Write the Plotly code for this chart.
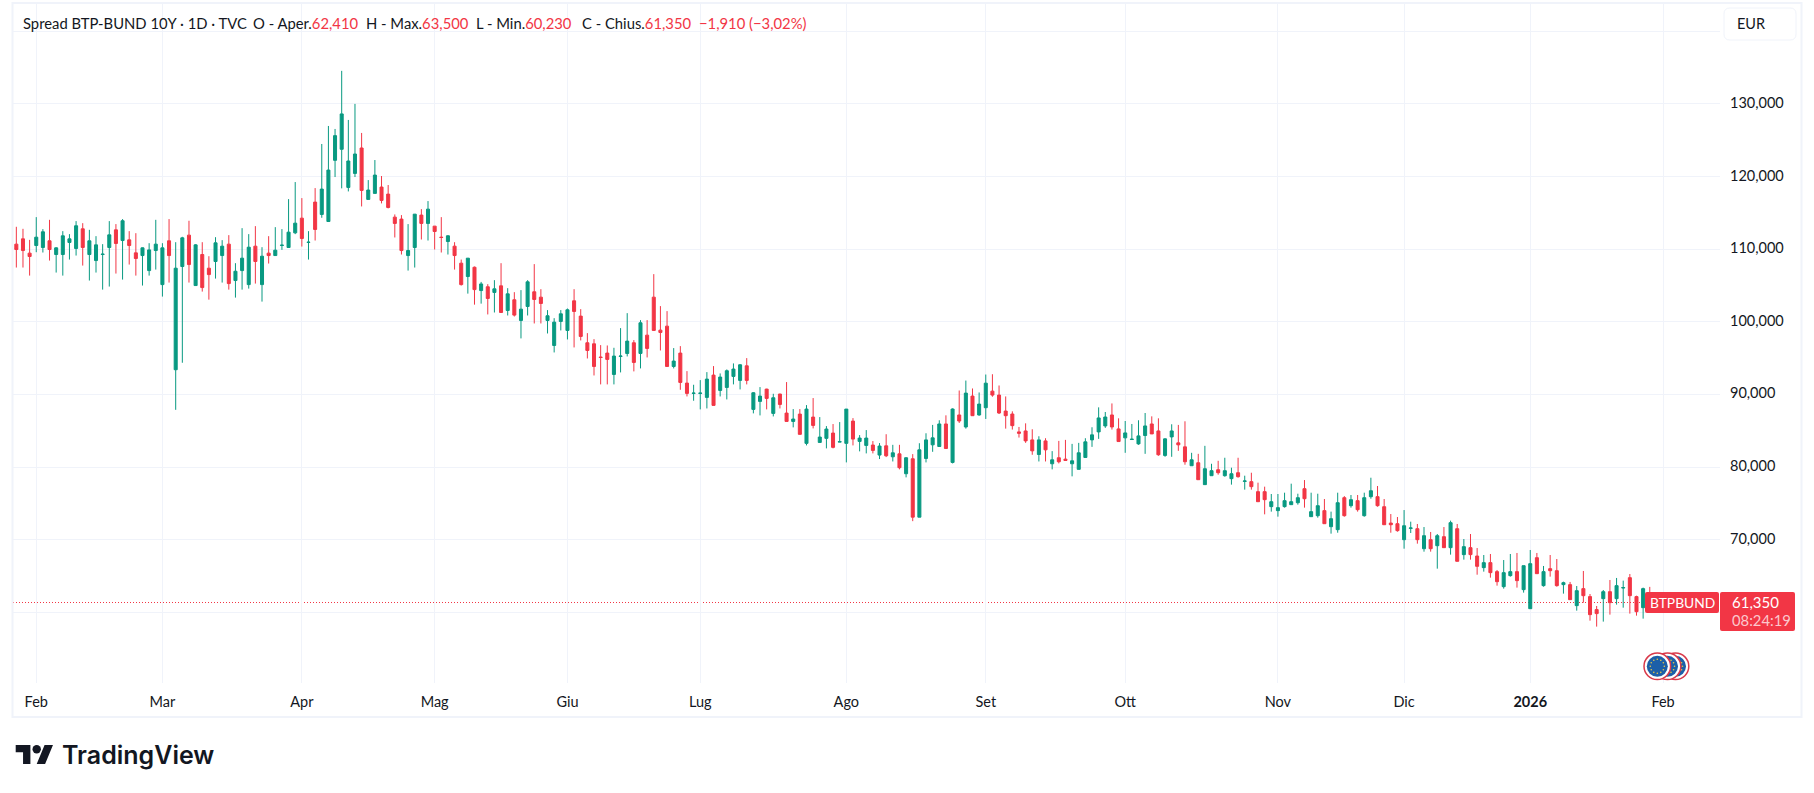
import math
import plotly.graph_objects as go

# Daily OHLC of the BTP-Bund 10Y spread
opens = [
    110.69,111.42,109.45,110.50,110.23,111.15,109.26,109.26,110.92,110.09,
    112.80,109.26,108.43,109.26,110.23,112.66,111.19,111.28,109.49,109.12,
    107.05,109.81,105.12,111.15,93.40,107.61,111.93,104.99,109.26,107.38,
    108.30,109.12,110.69,105.68,107.05,105.12,110.41,105.12,109.45,109.12,
    110.50,110.23,112.25,114.27,110.92,116.48,114.78,113.81,122.23,123.75,
    118.50,120.43,123.93,116.85,117.68,118.55,117.58,114.41,114.14,109.12,
    110.23,114.69,113.54,113.17,111.65,111.05,110.41,108.07,106.23,107.51,
    104.30,104.82,104.04,104.95,101.56,103.03,100.18,102.11,104.13,103.39,
    100.18,96.74,100.05,98.81,102.89,100.78,97.11,96.97,95.14,95.69,
    92.75,95.23,95.64,97.11,95.64,98.16,103.39,98.85,99.40,93.85,
    95.69,91.56,90.14,90.14,89.59,92.66,90.55,90.96,92.48,91.93,
    93.94,87.94,89.04,90.73,87.39,90.05,87.43,86.28,87.29,83.26,
    86.88,83.39,83.95,84.68,83.44,83.26,86.33,83.53,82.98,83.03,
    81.65,82.92,81.41,81.82,79.08,81.14,73.10,81.18,83.06,82.83,
    85.93,80.64,87.17,85.52,89.77,87.17,88.17,90.45,89.91,87.71,
    87.30,84.84,84.97,83.74,81.73,83.60,80.45,81.28,81.09,80.45,
    79.68,81.32,83.74,84.84,85.66,87.17,85.25,84.02,83.79,83.19,
    84.34,85.93,84.97,81.60,84.15,83.33,82.78,80.18,80.59,77.58,
    78.81,79.63,78.81,78.40,79.22,78.03,77.99,76.61,76.61,74.55,
    74.00,74.55,74.82,75.09,77.02,73.17,73.30,74.00,71.79,71.38,
    75.78,74.68,75.37,73.30,75.92,75.92,74.54,72.29,72.20,70.00,
    71.56,71.51,68.76,70.00,69.17,70.41,68.90,71.51,67.94,68.90,
    67.75,66.15,66.84,65.60,63.53,65.05,65.60,63.12,60.50,67.52,
    63.67,66.01,65.73,63.81,63.81,60.92,63.26,62.16,60.37,61.88,
    62.84,61.88,63.35,64.77,62.16,60.64,62.41,
]
highs = [
    113.08,112.80,111.28,114.41,112.76,114.04,110.27,112.48,112.07,113.86,
    113.58,112.66,111.79,110.69,113.86,113.45,114.14,112.48,112.20,110.23,
    110.82,114.04,110.82,114.14,110.96,111.70,113.91,110.69,110.96,109.03,
    111.65,111.24,111.93,108.07,112.89,112.07,113.17,110.27,111.79,113.03,
    112.76,116.89,119.24,117.03,112.48,118.41,124.48,126.96,126.55,134.55,
    127.79,130.00,126.00,119.51,122.27,120.07,118.83,114.78,114.69,113.45,
    114.82,115.51,116.62,113.17,114.41,111.93,110.96,108.57,108.76,107.61,
    105.49,105.18,105.73,108.07,104.63,104.08,104.36,105.73,107.94,104.49,
    101.61,100.50,101.61,101.83,104.49,101.74,98.44,97.61,96.79,96.74,
    96.42,99.13,101.19,97.48,100.23,100.23,106.56,102.16,101.47,96.38,
    96.65,93.21,91.33,91.97,93.07,93.90,92.89,93.44,94.27,94.17,
    95.00,90.32,91.01,90.78,90.09,90.09,91.70,87.98,87.98,88.53,
    89.50,86.88,85.64,85.92,86.19,87.98,86.74,84.40,85.09,83.58,
    83.30,84.52,83.06,83.06,81.37,81.78,83.28,84.65,85.80,86.44,
    87.12,88.08,90.54,91.91,90.82,90.27,92.74,92.78,91.23,89.72,
    87.67,85.52,86.02,85.20,84.24,83.97,82.19,83.60,83.74,83.19,
    83.33,83.97,85.48,88.22,87.58,88.76,86.71,86.34,85.93,86.44,
    87.44,86.98,86.71,83.97,85.89,85.80,86.30,81.96,81.82,82.92,
    80.45,80.86,81.28,79.91,81.28,78.81,79.22,77.85,77.30,76.29,
    76.29,76.47,77.71,76.33,78.21,76.47,76.33,75.60,73.86,76.47,
    76.00,76.15,76.15,76.47,78.53,77.39,75.60,73.53,73.12,74.08,
    72.48,72.16,71.74,71.06,70.78,71.74,72.62,72.16,70.09,70.78,
    68.85,67.89,68.03,65.83,67.20,68.03,68.17,66.42,68.58,68.17,
    66.38,67.89,67.34,64.22,64.18,63.62,65.69,62.52,60.87,63.07,
    64.45,64.73,64.36,65.27,62.29,63.40,63.50,
]
lows = [
    107.47,107.47,106.36,109.58,109.54,108.43,106.78,106.36,108.57,109.12,
    107.74,105.68,106.78,104.43,104.85,106.64,105.81,107.88,106.36,104.99,
    106.36,107.19,103.47,105.40,87.88,94.36,105.40,104.99,104.16,103.05,
    105.95,105.40,104.43,103.33,104.43,104.57,105.26,102.78,108.02,109.12,
    109.90,110.23,112.07,110.36,108.57,111.19,114.32,113.81,119.93,118.37,
    117.95,119.93,115.88,116.85,117.68,116.30,115.61,111.61,109.26,107.05,
    107.47,111.33,111.19,109.95,109.54,109.26,107.19,104.99,103.88,102.36,
    102.50,101.01,101.28,101.28,100.87,100.73,97.71,100.87,99.77,99.77,
    98.39,95.78,98.81,97.57,96.47,97.43,94.95,92.61,91.38,91.38,
    91.38,93.03,95.23,93.17,93.58,95.09,98.81,96.05,93.85,93.58,
    90.64,89.72,89.13,87.94,88.07,88.49,89.72,89.31,91.38,90.69,
    91.38,87.39,87.11,87.94,86.97,88.07,86.28,85.46,84.50,82.98,
    85.32,83.39,82.57,82.57,83.44,80.64,82.98,82.16,81.88,81.88,
    81.10,81.37,80.77,79.68,78.58,72.55,73.10,80.64,82.10,82.83,
    82.55,80.50,86.07,85.29,87.07,87.07,86.62,89.68,87.30,85.29,
    85.16,84.06,83.33,81.69,80.77,80.77,79.68,80.50,80.91,78.72,
    79.68,81.32,82.78,83.88,85.39,85.16,83.51,81.96,83.74,83.06,
    81.82,84.56,81.55,81.41,81.41,82.23,80.32,80.18,78.26,77.58,
    78.81,78.95,78.67,77.58,78.54,76.89,76.89,75.23,73.49,73.86,
    73.17,74.41,74.82,74.82,74.41,73.17,73.03,72.20,70.83,70.96,
    73.17,74.41,73.86,73.17,75.64,74.54,72.06,70.96,71.10,68.76,
    70.92,69.45,68.35,68.35,66.01,68.90,67.94,67.02,67.25,67.25,
    65.18,65.60,64.77,63.67,63.26,64.91,63.40,62.71,60.50,65.32,
    63.53,64.91,63.53,62.57,61.74,60.23,61.33,58.85,58.03,58.72,
    59.68,61.06,60.64,59.82,59.54,59.13,60.23,
]
closes = [
    109.95,109.81,108.99,111.65,112.39,109.95,110.18,111.84,111.42,113.22,
    110.23,111.15,110.59,109.31,111.97,110.78,113.91,110.50,108.71,110.18,
    109.90,110.69,110.18,109.12,107.38,111.56,107.88,110.59,104.71,106.50,
    110.87,110.41,105.26,106.96,108.76,110.27,108.30,109.03,109.12,109.86,
    110.55,112.34,113.58,111.47,110.96,112.71,118.27,120.89,125.63,128.62,
    122.14,123.10,118.09,118.14,120.20,116.71,115.74,113.54,109.81,109.81,
    114.82,113.54,115.51,112.43,111.61,111.84,109.12,105.12,108.76,104.43,
    105.21,103.21,104.54,101.28,103.85,100.92,101.74,105.50,103.07,102.52,
    100.83,99.95,101.10,101.65,101.42,97.98,96.05,93.85,95.09,94.82,
    95.28,95.28,97.34,94.40,99.86,96.33,98.81,98.53,93.85,94.59,
    91.65,90.14,90.18,90.18,92.11,88.49,92.39,93.26,93.49,94.08,
    91.93,90.23,89.77,89.45,89.54,88.62,86.28,86.61,84.50,87.98,
    85.73,84.13,85.23,82.71,83.49,87.98,83.85,83.99,83.99,82.29,
    82.89,81.55,81.96,79.91,81.28,73.10,82.37,83.74,84.02,85.93,
    82.55,87.99,86.34,90.18,87.07,88.67,91.55,89.91,87.44,87.07,
    85.70,84.65,83.60,82.23,83.74,82.37,81.00,80.73,80.91,80.86,
    81.96,83.47,84.43,86.76,86.89,85.52,83.51,84.70,83.83,84.29,
    85.66,84.56,81.69,83.88,84.97,83.06,80.73,81.00,78.26,79.77,
    79.50,79.22,79.50,79.08,78.67,78.08,77.30,75.23,75.51,75.23,
    74.41,75.37,75.23,75.78,75.64,73.86,74.68,72.20,72.89,75.09,
    73.30,75.51,74.13,75.78,76.74,74.68,72.06,72.06,71.24,71.92,
    71.61,70.00,70.55,68.76,70.55,68.90,72.34,67.02,69.04,67.94,
    66.33,66.84,65.46,64.22,65.46,65.60,64.36,66.42,66.70,65.32,
    65.60,65.73,63.67,64.08,61.74,62.98,62.29,59.68,59.82,62.84,
    61.33,63.67,63.40,62.29,60.09,63.26,61.35,
]
assert len(opens) == len(highs) == len(lows) == len(closes)
sessions = list(range(len(closes)))

# Session index where each month begins, and its label on the time scale
month_sessions = [3, 22, 43, 63, 83, 103, 125, 146, 167, 190, 209, 228, 248]
month_labels = ["Feb", "Mar", "Apr", "Mag", "Giu", "Lug", "Ago", "Set", "Ott",
                "Nov", "Dic", "<b>2026</b>", "Feb"]

# Price scale levels; 60 and 140 only get a grid line
price_levels = [60, 70, 80, 90, 100, 110, 120, 130, 140]
price_labels = ["", "70,000", "80,000", "90,000", "100,000", "110,000",
                "120,000", "130,000", ""]

last_price = 61.35

W, H = 1814, 793
GREEN = "#089981"
RED = "#F23645"
INK = "#131722"
GRID = "#F0F3FA"
FONT = "Lato"
FS = 14.5

# Pane rectangle on the page
PANE_L, PANE_R, PANE_T, PANE_B = 13, 1720, 4, 683


def px(x):
    return x / W


def py(y):
    return 1 - y / H


fig = go.Figure(go.Candlestick(
    x=sessions, open=opens, high=highs, low=lows, close=closes,
    whiskerwidth=0,
    increasing=dict(line=dict(color=GREEN, width=1), fillcolor=GREEN),
    decreasing=dict(line=dict(color=RED, width=1), fillcolor=RED),
    hoverinfo="skip", showlegend=False,
))

shapes = []
annotations = []


def rect(x0, y0, x1, y1, fill="rgba(0,0,0,0)", line=None, width=0, r=0):
    """Rectangle in page pixels, optionally with rounded corners."""
    if r:
        p = (f"M{px(x0 + r)},{py(y0)} L{px(x1 - r)},{py(y0)} "
             f"Q{px(x1)},{py(y0)} {px(x1)},{py(y0 + r)} L{px(x1)},{py(y1 - r)} "
             f"Q{px(x1)},{py(y1)} {px(x1 - r)},{py(y1)} L{px(x0 + r)},{py(y1)} "
             f"Q{px(x0)},{py(y1)} {px(x0)},{py(y1 - r)} L{px(x0)},{py(y0 + r)} "
             f"Q{px(x0)},{py(y0)} {px(x0 + r)},{py(y0)} Z")
        shapes.append(dict(type="path", path=p, xref="paper", yref="paper",
                           fillcolor=fill, line=dict(color=line or fill, width=width),
                           layer="above"))
    else:
        shapes.append(dict(type="rect", xref="paper", yref="paper",
                           x0=px(x0), x1=px(x1), y0=py(y0), y1=py(y1),
                           fillcolor=fill, line=dict(color=line or fill, width=width),
                           layer="above"))


def circle(cx, cy, r, fill, line=None, width=0):
    shapes.append(dict(type="circle", xref="paper", yref="paper",
                       x0=px(cx - r), x1=px(cx + r), y0=py(cy + r), y1=py(cy - r),
                       fillcolor=fill, line=dict(color=line or fill, width=width),
                       layer="above"))


def label(x, y, text, size=FS, color=INK, anchor="left", **font):
    annotations.append(dict(
        xref="paper", yref="paper", x=px(x), y=py(y), text=text, showarrow=False,
        xanchor=anchor, yanchor="middle", align=anchor,
        borderpad=0, font=dict(family=FONT, size=size, color=color, **font)))


# Outer frame of the chart widget
rect(12.5, 3, 1801.5, 717, line="#F0F3FA", width=2)

# Dotted line at the last price
shapes.append(dict(type="line", xref="paper", yref="y", x0=px(PANE_L), x1=px(1645),
                   y0=last_price, y1=last_price, layer="below",
                   line=dict(color=RED, width=1, dash="1px 2px")))

# Symbol tag and price tag
rect(1645, 592, 1719, 613, fill=RED, r=2)
rect(1720, 592, 1795, 631, fill=RED, r=2)
label(1682, 602, "BTPBUND", size=13.8, color="#FFFFFF", anchor="center")
label(1731, 602, "61,350", size=15, color="#FFFFFF")
label(1731, 620, "08:24:19", size=14.8, color="#FBC8CD")

# Currency button
rect(1724, 8, 1796, 40, fill="#FFFFFF", line="#F0F3FA", width=1, r=6)
label(1736, 24, "EUR")

# Stacked euro-area badges, drawn back to front
for cx in (1675.5, 1667.5, 1657.3):
    circle(cx, 666.3, 13.3, "#FFFFFF", line="#D9394A", width=1.5)
    circle(cx, 666.3, 10.5, "#1D5FA8")
    for k in range(12):
        a = 2 * math.pi * k / 12
        circle(cx + 7 * math.cos(a), 666.3 + 7 * math.sin(a), 0.8, "#E8C84A")

# Header line with the instrument and its OHLC readout
red = lambda s: f'<span style="color:{RED}">{s}</span>'
label(22, 23, "Spread BTP-BUND 10Y · 1D · TVC", size=14.8)
label(252, 23, "O - Aper." + red("62,410"), size=14.8)
label(365, 23, "H - Max." + red("63,500"), size=14.8)
label(475, 23, "L - Min." + red("60,230"), size=14.8)
label(581, 23, "C - Chius." + red("61,350"), size=14.8)
label(698, 23, red("\u22121,910 (\u22123,02%)"), size=14.8)

# TradingView wordmark and logo
LOGO_X, LOGO_Y, LOGO_S = 15.7, 745, 1.05


def lx(v):
    return px(LOGO_X + v * LOGO_S)


def ly(v):
    return py(LOGO_Y + (v - 4) * LOGO_S)


logo = (f"M{lx(14)},{ly(22)} L{lx(7)},{ly(22)} L{lx(7)},{ly(11)} L{lx(0)},{ly(11)} "
        f"L{lx(0)},{ly(4)} L{lx(14)},{ly(4)} Z "
        f"M{lx(28)},{ly(22)} L{lx(20)},{ly(22)} L{lx(27.5)},{ly(4)} L{lx(35.5)},{ly(4)} Z")
shapes.append(dict(type="path", path=logo, xref="paper", yref="paper",
                   fillcolor="#131722", line=dict(width=0), layer="above"))
circle(LOGO_X + 20 * LOGO_S, LOGO_Y + 4 * LOGO_S, 4 * LOGO_S, "#131722")
label(61, 755, "TradingView", size=25, color="#131722", weight=600)
annotations[-1]["font"]["family"] = "Inter"

fig.update_layout(
    width=W, height=H,
    margin=dict(l=0, r=0, t=0, b=0),
    paper_bgcolor="#FFFFFF", plot_bgcolor="#FFFFFF",
    boxgap=0.35,
    showlegend=False,
    font=dict(family=FONT, size=FS, color=INK),
    shapes=shapes, annotations=annotations,
    xaxis=dict(
        domain=[px(PANE_L), px(PANE_R)],
        range=[(PANE_L - 16.33) / 6.64, (PANE_R - 16.33) / 6.64],
        tickmode="array", tickvals=month_sessions, ticktext=month_labels,
        showgrid=True, gridcolor=GRID, gridwidth=1, zeroline=False, showline=False,
        ticks="", ticklabelstandoff=8, rangeslider=dict(visible=False), fixedrange=True,
        tickfont=dict(family=FONT, size=FS, color=INK),
    ),
    yaxis=dict(
        domain=[py(PANE_B), py(PANE_T)],
        range=[130 - (PANE_B - 103.9) / 7.263, 130 + (103.9 - PANE_T) / 7.263],
        side="right", anchor="x",
        tickmode="array", tickvals=price_levels, ticktext=price_labels,
        showgrid=True, gridcolor=GRID, gridwidth=1, zeroline=False, showline=False,
        ticks="", ticklabelstandoff=9, ticklabelshift=-1, fixedrange=True,
        tickfont=dict(family=FONT, size=FS, color=INK),
    ),
)

fig.write_html("out.html", config=dict(displayModeBar=False))
